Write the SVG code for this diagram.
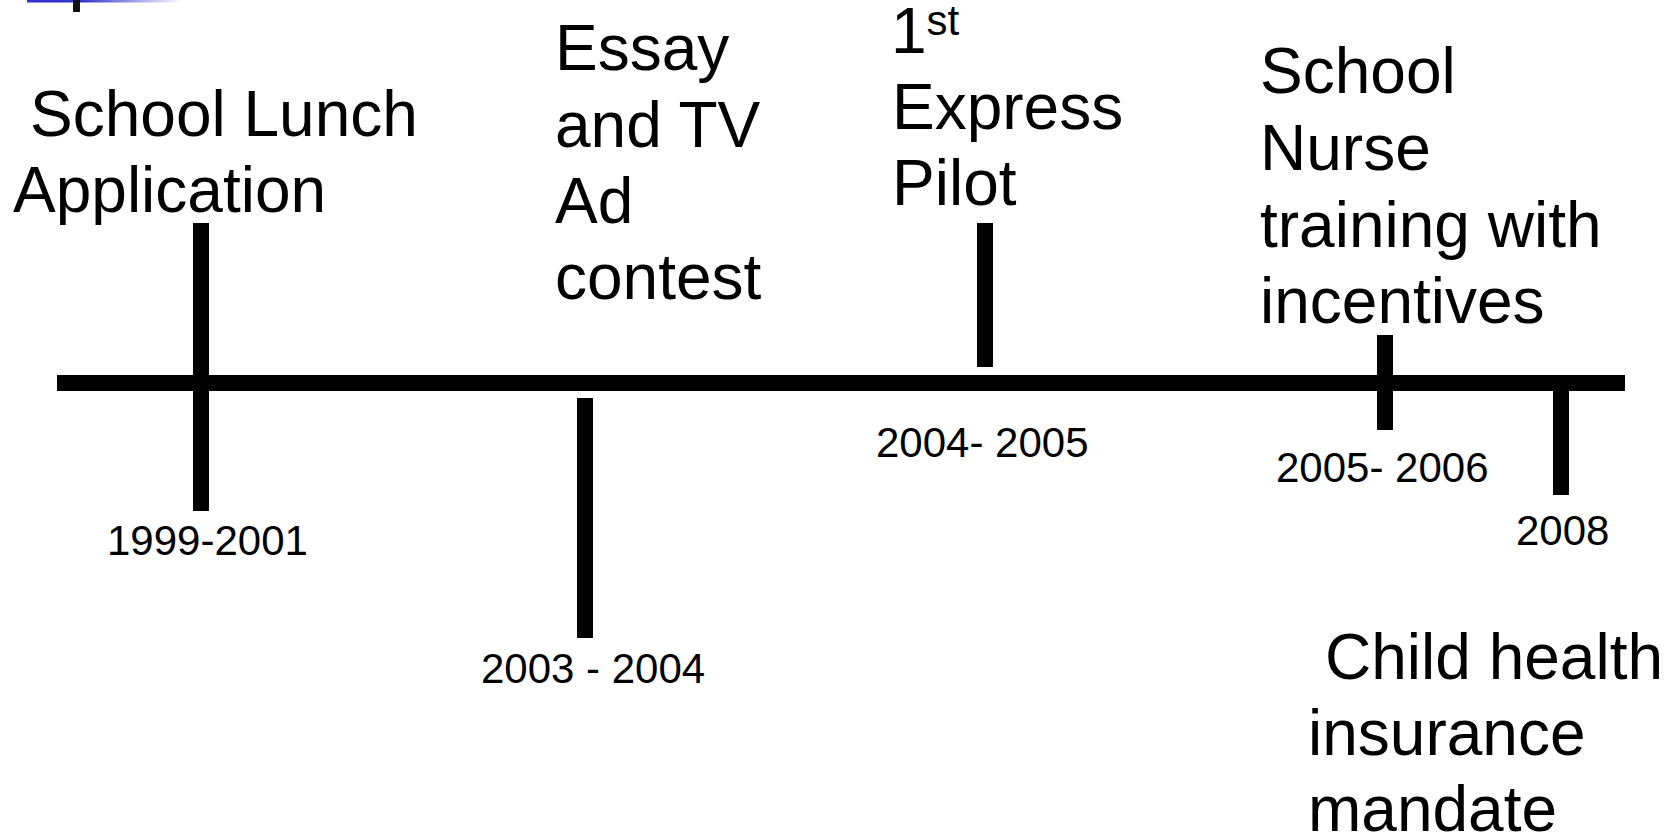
<svg xmlns="http://www.w3.org/2000/svg" width="1675" height="836" viewBox="0 0 1675 836">
  <style>
    .lbl { font-family: "Liberation Sans", Arial, sans-serif; font-size: 64px; fill: #000; }
    .date { font-family: "Liberation Sans", Arial, sans-serif; font-size: 42px; fill: #000; }
    .bar { fill: #000; }
  </style>
  <defs>
    <linearGradient id="blueFade" x1="0" y1="0" x2="1" y2="0">
      <stop offset="0" stop-color="#3333cc"/>
      <stop offset="0.35" stop-color="#3333cc"/>
      <stop offset="1" stop-color="#ffffff"/>
    </linearGradient>
  </defs>
  <rect width="1675" height="836" fill="#fff"/>

  <g id="header-remnant">
    <rect x="27" y="0" width="155" height="2.5" fill="url(#blueFade)"/>
    <rect x="73" y="0" width="7" height="12" fill="#111"/>
  </g>

  <g id="connectors">
    <rect id="axis" class="bar" x="57" y="375" width="1568" height="16"/>
  </g>

  <g id="event-1999">
    <rect class="bar" x="193" y="223" width="16" height="288"/>
    <text class="lbl" x="30" y="136">School Lunch</text>
    <text class="lbl" x="13" y="212">Application</text>
    <text class="date" x="107" y="555">1999-2001</text>
  </g>

  <g id="event-2003">
    <rect class="bar" x="577" y="398" width="16" height="240"/>
    <text class="lbl" x="555" y="70">Essay</text>
    <text class="lbl" x="555" y="147">and TV</text>
    <text class="lbl" x="555" y="223">Ad</text>
    <text class="lbl" x="555" y="299">contest</text>
    <text class="date" x="481" y="683">2003 - 2004</text>
  </g>

  <g id="event-2004">
    <rect class="bar" x="977" y="223" width="16" height="144"/>
    <text class="lbl" x="891" y="53">1<tspan font-size="42" dy="-18">st</tspan></text>
    <text class="lbl" x="892" y="129">Express</text>
    <text class="lbl" x="892" y="205">Pilot</text>
    <text class="date" x="876" y="457">2004- 2005</text>
  </g>

  <g id="event-2005">
    <rect class="bar" x="1377" y="335" width="16" height="95"/>
    <text class="lbl" x="1260" y="93">School</text>
    <text class="lbl" x="1260" y="170">Nurse</text>
    <text class="lbl" x="1260" y="247">training with</text>
    <text class="lbl" x="1260" y="323">incentives</text>
    <text class="date" x="1276" y="482">2005- 2006</text>
  </g>

  <g id="event-2008">
    <rect class="bar" x="1553" y="375" width="16" height="120"/>
    <text class="date" x="1516" y="545">2008</text>
    <text class="lbl" x="1325" y="679">Child health</text>
    <text class="lbl" x="1308" y="755">insurance</text>
    <text class="lbl" x="1308" y="831">mandate</text>
  </g>
</svg>
